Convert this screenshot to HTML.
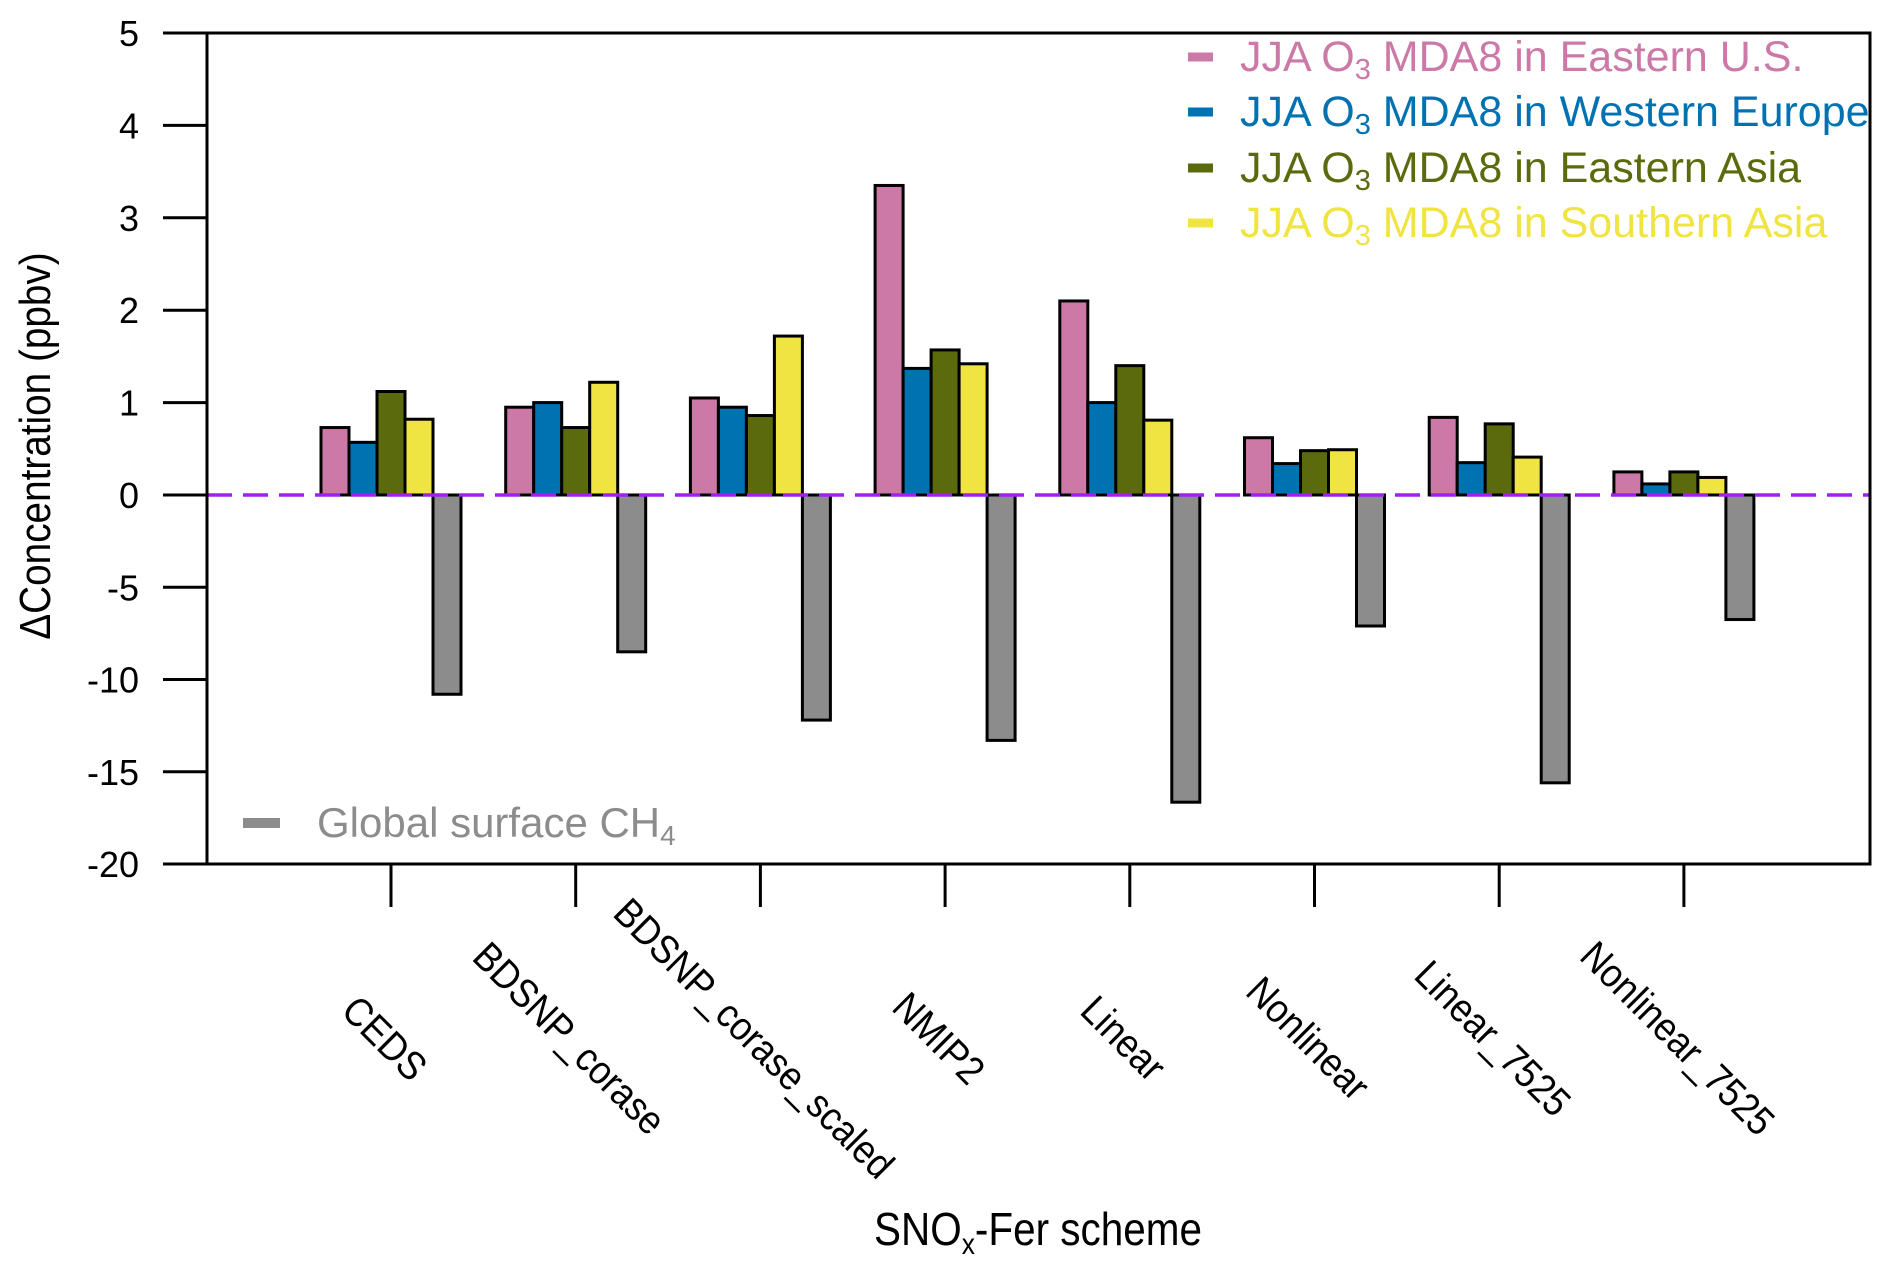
<!DOCTYPE html>
<html><head><meta charset="utf-8"><style>
html,body{margin:0;padding:0;background:#fff;}
svg{display:block;font-family:"Liberation Sans",sans-serif;}
</style></head><body>
<svg id="chart" width="1892" height="1273" viewBox="0 0 1892 1273">
<g id="bars"></g>
<g id="axes"></g>
<g id="legend">
  <line x1="1188" y1="57" x2="1213" y2="57" stroke="#cc79a7" stroke-width="9"/>
  <text x="1240" y="71" font-size="43" fill="#cc79a7">JJA O<tspan font-size="29" dy="8">3</tspan><tspan dy="-8"> MDA8 in Eastern U.S.</tspan></text>
  <line x1="1188" y1="112" x2="1213" y2="112" stroke="#0072b2" stroke-width="9"/>
  <text x="1240" y="126" font-size="43" fill="#0072b2">JJA O<tspan font-size="29" dy="8">3</tspan><tspan dy="-8"> MDA8 in Western Europe</tspan></text>
  <line x1="1188" y1="168" x2="1213" y2="168" stroke="#5b6a0c" stroke-width="9"/>
  <text x="1240" y="182" font-size="43" fill="#5b6a0c">JJA O<tspan font-size="29" dy="8">3</tspan><tspan dy="-8"> MDA8 in Eastern Asia</tspan></text>
  <line x1="1188" y1="223" x2="1213" y2="223" stroke="#f0e442" stroke-width="9"/>
  <text x="1240" y="237" font-size="43" fill="#f0e442">JJA O<tspan font-size="29" dy="8">3</tspan><tspan dy="-8"> MDA8 in Southern Asia</tspan></text>
  <line x1="243" y1="823" x2="280" y2="823" stroke="#8c8c8c" stroke-width="10"/>
  <text x="317" y="837" font-size="42" fill="#8c8c8c">Global surface CH<tspan font-size="28" dy="8">4</tspan></text>
</g>
<text transform="translate(50,446) rotate(-90) scale(0.88,1)" text-anchor="middle" font-size="44" fill="#000">ΔConcentration (ppbv)</text>
<text transform="translate(1038,1245) scale(0.88,1)" text-anchor="middle" font-size="46" fill="#000">SNO<tspan font-size="30" dy="9">x</tspan><tspan dy="-9">-Fer scheme</tspan></text>
</svg>
<script>
const categories = ["CEDS","BDSNP_corase","BDSNP_corase_scaled","NMIP2","Linear","Nonlinear","Linear_7525","Nonlinear_7525"];
const easternUS = [0.73,0.95,1.05,3.35,2.1,0.62,0.84,0.25];
const westernEurope = [0.57,1.0,0.95,1.37,1.0,0.34,0.35,0.12];
const easternAsia = [1.12,0.73,0.86,1.57,1.4,0.48,0.77,0.25];
const southernAsia = [0.82,1.22,1.72,1.42,0.81,0.49,0.41,0.19];
const globalCH4 = [-10.8,-8.5,-12.2,-13.3,-16.65,-7.1,-15.6,-6.75];
const yTicks = [5,4,3,2,1,0,-5,-10,-15,-20];

const NS="http://www.w3.org/2000/svg";
const L=207,R=1870,T=33,Z=495,B=864;
function y(v){return v>=0 ? Z-(v/5)*(Z-T) : Z+(-v/20)*(B-Z);}
function xc(i){return 391+i*184.7;}
const bw=28;
function mk(tag,attrs,parent){const e=document.createElementNS(NS,tag);for(const k in attrs)e.setAttribute(k,attrs[k]);parent.appendChild(e);return e;}
const bars=document.getElementById('bars'), axes=document.getElementById('axes');
const series=[[easternUS,"#cc79a7","eastern-us"],[westernEurope,"#0072b2","western-europe"],[easternAsia,"#5b6a0c","eastern-asia"],[southernAsia,"#f0e442","southern-asia"],[globalCH4,"#8c8c8c","ch4"]];
categories.forEach((c,i)=>{
  series.forEach((s,j)=>{
    const v=s[0][i];
    const x0=xc(i)-2.5*bw+j*bw;
    const y0=Math.min(y(v),Z), h=Math.abs(y(v)-Z);
    const r=mk('rect',{x:x0,y:y0,width:bw,height:h,fill:s[1],stroke:'#000','stroke-width':3},bars);
    
    
  });
});
const zl=mk('line',{x1:L,y1:Z,x2:R,y2:Z,stroke:'#a020f0','stroke-width':3.5,'stroke-dasharray':'25 11'},axes);


const fr=mk('rect',{x:L,y:T,width:R-L,height:B-T,fill:'none',stroke:'#000','stroke-width':3},axes);


yTicks.forEach(v=>{
  const t=mk('line',{x1:163,y1:y(v),x2:L,y2:y(v),stroke:'#000','stroke-width':3},axes);
  
  
  const tx=mk('text',{x:139,y:y(v)+13,'text-anchor':'end','font-size':36,fill:'#000'},axes);
  tx.textContent=String(v);
  
  
});
categories.forEach((c,i)=>{
  const t=mk('line',{x1:xc(i),y1:B,x2:xc(i),y2:907,stroke:'#000','stroke-width':3},axes);
  
  
  const tx=mk('text',{transform:`translate(${xc(i)-16},1048) rotate(45) scale(0.9,1)`,'text-anchor':'middle','font-size':40,fill:'#000'},axes);
  tx.textContent=c;
  
  
});
</script>
</body></html>
